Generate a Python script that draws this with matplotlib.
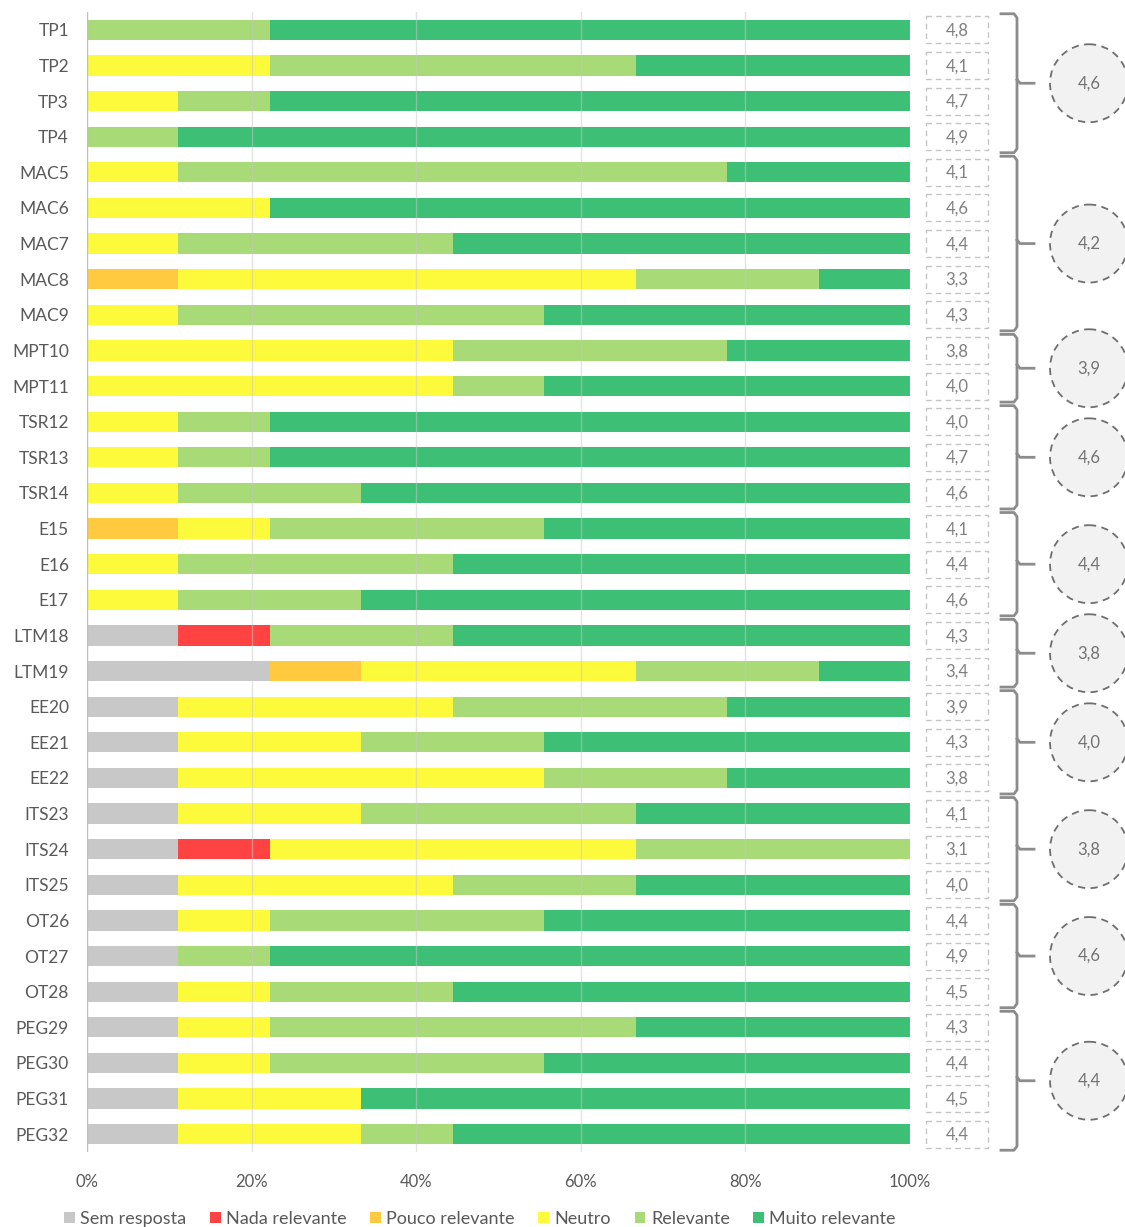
import matplotlib.pyplot as plt
from matplotlib.patches import Ellipse, Rectangle
import numpy as np

plt.rcParams['font.family'] = ['Lato', 'DejaVu Sans']

# ---------- data ----------
items = ["TP1", "TP2", "TP3", "TP4", "MAC5", "MAC6", "MAC7", "MAC8", "MAC9",
         "MPT10", "MPT11", "TSR12", "TSR13", "TSR14", "E15", "E16", "E17",
         "LTM18", "LTM19", "EE20", "EE21", "EE22", "ITS23", "ITS24", "ITS25",
         "OT26", "OT27", "OT28", "PEG29", "PEG30", "PEG31", "PEG32"]

categories = ["Sem resposta", "Nada relevante", "Pouco relevante", "Neutro",
              "Relevante", "Muito relevante"]
colors = ["#c8c8c8", "#ff4343", "#ffc940", "#fdfa3c", "#a8da78", "#3ebf76"]

# answer counts (out of 9 respondents) per category
sem_resposta = [0, 0, 0, 0, 0, 0, 0, 0, 0, 0, 0, 0, 0, 0, 0, 0, 0,
                1, 2, 1, 1, 1, 1, 1, 1, 1, 1, 1, 1, 1, 1, 1]
nada_relevante = [0, 0, 0, 0, 0, 0, 0, 0, 0, 0, 0, 0, 0, 0, 0, 0, 0,
                  1, 0, 0, 0, 0, 0, 1, 0, 0, 0, 0, 0, 0, 0, 0]
pouco_relevante = [0, 0, 0, 0, 0, 0, 0, 1, 0, 0, 0, 0, 0, 0, 1, 0, 0,
                   0, 1, 0, 0, 0, 0, 0, 0, 0, 0, 0, 0, 0, 0, 0]
neutro = [0, 2, 1, 0, 1, 2, 1, 5, 1, 4, 4, 1, 1, 1, 1, 1, 1,
          0, 3, 3, 2, 4, 2, 4, 3, 1, 0, 1, 1, 1, 2, 2]
relevante = [2, 4, 1, 1, 6, 0, 3, 2, 4, 3, 1, 1, 1, 2, 3, 3, 2,
             2, 2, 3, 2, 2, 3, 3, 2, 3, 1, 2, 4, 3, 0, 1]
muito_relevante = [7, 3, 7, 8, 2, 7, 5, 1, 4, 2, 4, 7, 7, 6, 4, 5, 6,
                   5, 1, 2, 4, 2, 3, 0, 3, 4, 7, 5, 3, 4, 6, 5]
n_respondents = 9

item_scores = ["4,8", "4,1", "4,7", "4,9", "4,1", "4,6", "4,4", "3,3", "4,3",
               "3,8", "4,0", "4,0", "4,7", "4,6", "4,1", "4,4", "4,6",
               "4,3", "3,4", "3,9", "4,3", "3,8", "4,1", "3,1", "4,0",
               "4,4", "4,9", "4,5", "4,3", "4,4", "4,5", "4,4"]

group_first = [0, 4, 9, 11, 14, 17, 19, 22, 25, 28]
group_last = [3, 8, 10, 13, 16, 18, 21, 24, 27, 31]
group_scores = ["4,6", "4,2", "3,9", "4,6", "4,4", "3,8", "4,0", "3,8", "4,6", "4,4"]

# ---------- figure ----------
W, H = 1125, 1227
fig = plt.figure(figsize=(W / 100, H / 100), dpi=100)
ax_left, ax_right, ax_top, ax_bot = 87, 910, 12, 1152
ax = fig.add_axes([ax_left / W, 1 - ax_bot / H, (ax_right - ax_left) / W, (ax_bot - ax_top) / H])

y = np.arange(len(items))
series = [sem_resposta, nada_relevante, pouco_relevante, neutro, relevante, muito_relevante]
left = np.zeros(len(items))
for name, vals, c in zip(categories, series, colors):
    pct = np.array(vals) / n_respondents * 100
    ax.barh(y, pct, left=left, height=0.57, color=c, label=name, zorder=2)
    left += pct

ax.set_xlim(0, 100)
ax.set_ylim(len(items) - 0.5, -0.5)
ax.set_xticks(range(0, 101, 20))
ax.set_xticklabels([f"{v}%" for v in range(0, 101, 20)])
ax.set_yticks(y)
ax.set_yticklabels(items)
ax.tick_params(axis='both', length=0, colors="#595959")
ax.tick_params(axis='x', pad=16, labelsize=12)
ax.tick_params(axis='y', pad=13, labelsize=12.5)
for s in ["top", "right", "bottom", "left"]:
    ax.spines[s].set_visible(False)
for v in range(0, 101, 20):
    ax.axvline(v, color="#c8c8c8" if v else "#bfbfbf", lw=1, alpha=0.5 if v else 1, zorder=3,
               ymin=-0.006, ymax=1)

# ---------- right-hand annotations ----------
ax2 = fig.add_axes([ax_right / W, 1 - ax_bot / H, (W - ax_right) / W, (ax_bot - ax_top) / H])
ax2.set_xlim(ax_right, W)
ax2.set_ylim(len(items) - 0.5, -0.5)
ax2.axis("off")
row_px = (ax_bot - ax_top) / len(items)

for i, s in enumerate(item_scores):
    box = Rectangle((926, i - 13.5 / row_px), 62, 27 / row_px, fill=False,
                    ec="#c4c4c4", lw=1, ls=(0, (4, 3)), clip_on=False)
    ax2.add_patch(box)
    ax2.text(957, i + 0.02, s, ha="center", va="center", fontsize=12, color="#808080")

for a, b, s in zip(group_first, group_last, group_scores):
    top = a - 0.45
    bot = b + 0.45
    mid = (a + b) / 2
    xv = 1017
    r = 4 / row_px
    ax2.plot([1001, xv - 3, xv, xv, xv - 3, 1001],
             [top, top, top + r, bot - r, bot, bot],
             color="#8c8c8c", lw=2, solid_joinstyle="round", clip_on=False)
    ax2.plot([xv, xv + 3, 1034], [mid - 0.1, mid, mid], color="#8c8c8c", lw=2,
             solid_joinstyle="round", clip_on=False)
    circ = Ellipse((1089, mid), 78, 78 / row_px, fc="#f2f2f2", ec="#6e6e6e", lw=1.3,
                   ls=(0, (4, 3)), clip_on=False)
    ax2.add_patch(circ)
    ax2.text(1089, mid, s, ha="center", va="center", fontsize=12, color="#737373")

# ---------- legend ----------
handles, labels = ax.get_legend_handles_labels()
fig.legend(handles, labels, loc="center", bbox_to_anchor=(480 / W, 1 - 1219 / H), ncol=6,
           frameon=False, fontsize=13, handlelength=0.6, handleheight=0.6,
           handletextpad=0.3, columnspacing=1.3, labelcolor="#595959")

fig.savefig("out.png", dpi=100)
